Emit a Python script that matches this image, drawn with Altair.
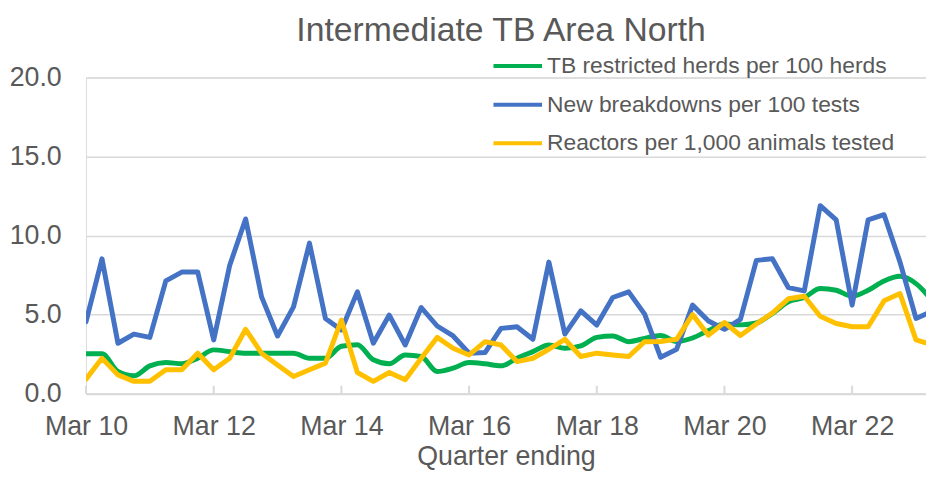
import altair as alt
import pandas as pd

# ---------------- data ----------------
years = list(range(10, 24))
months = ["Mar", "Jun", "Sep", "Dec"]
quarters = [f"{m} {y}" for y in years for m in months][:54]   # Mar 10 ... Jun 23

series_names = [
    "TB restricted herds per 100 herds",
    "New breakdowns per 100 tests",
    "Reactors per 1,000 animals tested",
]
series_colors = ["#00B050", "#4472C4", "#FFC000"]

tb_restricted = [
    2.52, 2.52, 1.40, 1.13, 1.76, 1.97, 1.89, 2.24, 2.77, 2.66,
    2.56, 2.56, 2.56, 2.56, 2.24, 2.24, 3.00, 3.10, 2.14, 1.89,
    2.45, 2.35, 1.40, 1.61, 1.97, 1.89, 1.76, 2.24, 2.66, 3.08,
    2.87, 3.02, 3.56, 3.65, 3.29, 3.50, 3.68, 3.30, 3.52, 4.00,
    4.40, 4.35, 4.47, 5.07, 5.81, 6.08, 6.65, 6.54, 6.16, 6.54,
    7.13, 7.42, 6.96, 5.90,
]
new_breakdowns = [
    4.55, 8.53, 3.19, 3.77, 3.56, 7.13, 7.69, 7.69, 3.40, 8.11,
    11.05, 6.12, 3.65, 5.49, 9.52, 4.76, 4.03, 6.44, 3.19, 4.97,
    3.08, 5.45, 4.28, 3.65, 2.56, 2.60, 4.13, 4.23, 3.44, 8.32,
    3.77, 5.24, 4.34, 6.08, 6.44, 5.03, 2.30, 2.80, 5.60, 4.60,
    4.07, 4.70, 8.43, 8.53, 6.71, 6.50, 11.89, 10.99, 5.60, 10.99,
    11.32, 8.32, 4.76, 5.20,
]
reactors = [
    0.92, 2.24, 1.19, 0.78, 0.78, 1.51, 1.51, 2.56, 1.51, 2.24,
    4.07, 2.56, 1.82, 1.09, 1.51, 1.93, 4.65, 1.34, 0.78, 1.34,
    0.88, 2.24, 3.56, 2.87, 2.45, 3.29, 3.08, 2.03, 2.24, 2.81,
    3.44, 2.35, 2.56, 2.45, 2.35, 3.29, 3.30, 3.44, 5.00, 3.70,
    4.50, 3.68, 4.40, 5.10, 6.00, 6.16, 4.90, 4.44, 4.23, 4.23,
    5.87, 6.33, 3.40, 3.10,
]

tick_idx = [0, 8, 16, 24, 32, 40, 48]
tick_labels = ["Mar 10", "Mar 12", "Mar 14", "Mar 16", "Mar 18", "Mar 20", "Mar 22"]
y_ticks = [0, 5, 10, 15, 20]

# ---------------- table ----------------
rows = []
for name, vals in zip(series_names, [tb_restricted, new_breakdowns, reactors]):
    for i, v in enumerate(vals):
        rows.append({"idx": i, "quarter": quarters[i], "series": name, "value": v})
df = pd.DataFrame(rows)
ticks_df = pd.DataFrame({"idx": tick_idx})

# ---------------- layout ----------------
FONT = "Liberation Sans"
TEXT = "#595959"
GRID = "#D9D9D9"
PLOT_W = 847.3
PLOT_H = 319
QUARTER_PX = 16.1
X_MAX = PLOT_W / QUARTER_PX

label_expr = f"{tick_labels}[round(datum.value / 8)]"

x_enc = alt.X(
    "idx:Q",
    scale=alt.Scale(domain=[0, X_MAX], nice=False, zero=False),
    axis=alt.Axis(
        values=tick_idx, labelExpr=label_expr, title="Quarter ending",
        grid=False, ticks=False, tickSize=0,
        domainColor=GRID, domainWidth=2,
        labelFont=FONT, labelFontSize=27, labelColor=TEXT, labelPadding=20,
        labelFlush=False, labelOverlap=False,
        titleFont=FONT, titleFontSize=27, titleColor=TEXT, titleFontWeight="normal",
        titlePadding=4,
    ),
)
y_enc = alt.Y(
    "value:Q",
    scale=alt.Scale(domain=[0, 20], nice=False),
    title="",
    axis=alt.Axis(
        values=y_ticks, format=".1f", domain=False, ticks=False, tickSize=0,
        gridColor=GRID, gridWidth=1.5,
        labelFont=FONT, labelFontSize=27, labelColor=TEXT, labelPadding=25,
    ),
)
color_enc = alt.Color(
    "series:N",
    scale=alt.Scale(domain=series_names, range=series_colors),
    title=None,
    legend=alt.Legend(
        orient="none", legendX=409, legendY=-38, direction="vertical",
        symbolType="stroke", symbolStrokeWidth=4, symbolSize=2401,
        labelFont=FONT, labelFontSize=23, labelColor=TEXT, labelOffset=3,
        rowPadding=-1, labelLimit=500,
    ),
)

base = alt.Chart(df).encode(x=x_enc, y=y_enc, color=color_enc)

line_style = dict(strokeWidth=5, clip=True, strokeCap="round", strokeJoin="round")
green = base.transform_filter(alt.datum.series == series_names[0]).mark_line(
    interpolate="monotone", **line_style)
blue = base.transform_filter(alt.datum.series == series_names[1]).mark_line(**line_style)
yellow = base.transform_filter(alt.datum.series == series_names[2]).mark_line(**line_style)

tick_marks = alt.Chart(ticks_df).mark_rule(color=GRID, strokeWidth=2).encode(
    x=alt.X("idx:Q"),
    y=alt.value(PLOT_H - 8),
    y2=alt.value(PLOT_H),
)

chart = alt.layer(tick_marks, green, blue, yellow).properties(
    width=PLOT_W,
    height=PLOT_H,
    title=alt.TitleParams(
        "Intermediate TB Area North", font=FONT, fontSize=34, fontWeight="normal",
        color=TEXT, anchor="middle", frame="group", offset=-8, dx=-5,
    ),
    autosize=alt.AutoSizeParams(type="none"),
    padding={"left": 78.7, "top": 68, "right": 0, "bottom": 80},
).configure_view(strokeWidth=0).configure(background="white")

chart.save("out.html", embed_options={"renderer": "svg", "actions": False})
